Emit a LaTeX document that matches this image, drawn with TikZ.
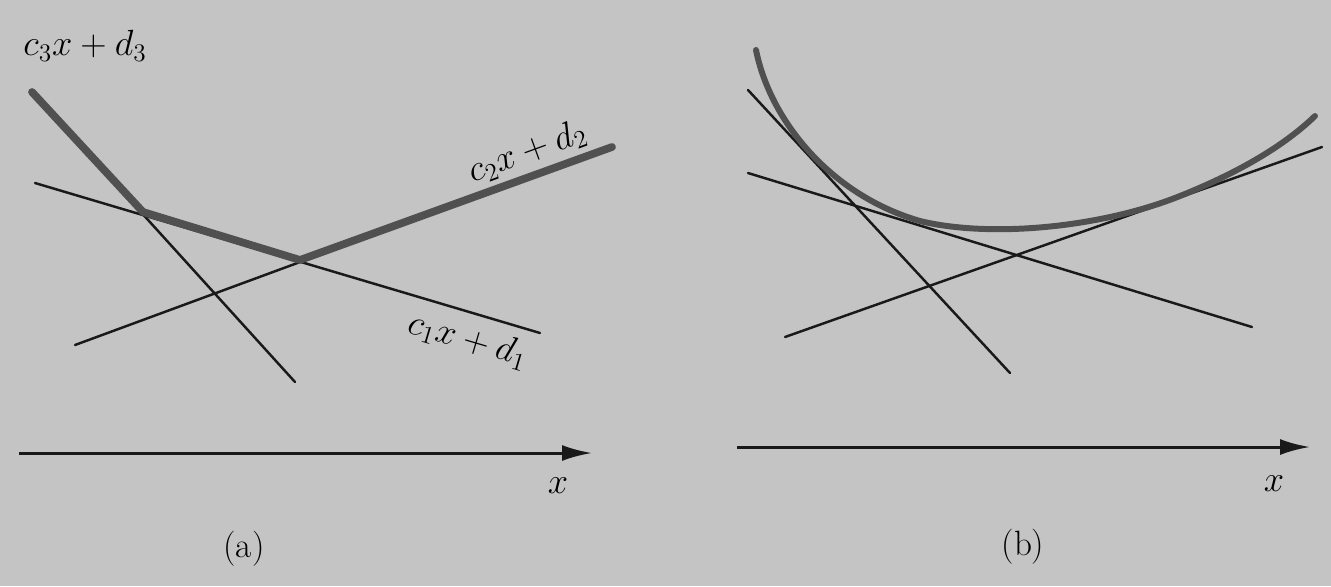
\documentclass[tikz,border=0pt]{standalone}
\usepackage{tikz}
\usetikzlibrary{arrows.meta}
\definecolor{paper}{HTML}{C4C4C4}
\definecolor{heavy}{HTML}{505050}
\tikzset{
  % The tangent lines
  thinline/.style={draw=black!90, line width=1.4pt, line cap=round},
  % The upper envelope in (a)
  thickline/.style={draw=heavy, line width=4.4pt, line cap=round, line join=round},
  % The smooth function in (b)
  curveline/.style={draw=heavy, line width=3.4pt, line cap=round},
  % The x axis
  axisline/.style={draw=black!90, line width=1.7pt, -{Latex[length=6mm,width=3.2mm]}},
  lbl/.style={font=\fontsize{20}{24}\selectfont, inner sep=1pt},
}

\begin{document}
\begin{tikzpicture}[x=0.02cm, y=-0.02cm]

  \fill[paper] (0,0) rectangle (1331,586);
  \useasboundingbox (0,0) rectangle (1331,586);

  % (a): three lines and their maximum
  \coordinate (a3s) at (32,92);    \coordinate (a3e) at (295,382);
  \coordinate (a1s) at (35,183);   \coordinate (a1e) at (540,333);
  \coordinate (a2s) at (75,345);   \coordinate (a2e) at (612,147);
  \coordinate (a13) at (143,212);  \coordinate (a12) at (300,260);

  \draw[thinline] (a3s) -- (a3e);
  \draw[thinline] (a1s) -- (a1e);
  \draw[thinline] (a2s) -- (a2e);
  \draw[thickline] (a3s) -- (a13) -- (a12) -- (a2e);

  \node[lbl] (l3) at (85,46) {$c_3x + d_3$};
  \node[lbl, rotate=20] (l2) at (527,152) {$c_2x + d_2$};
  \node[lbl, rotate=-16.5] (l1) at (468,340) {$c_1x + d_1$};

  \coordinate (xa0) at (19,453);   \coordinate (xa1) at (592,453);
  \draw[axisline] (xa0) -- (xa1);
  \node[lbl] (xa) at (558,486) {$x$};
  \node[lbl] (capa) at (244,549) {(a)};

  % (b): a smooth function and three tangents
  \coordinate (bAs) at (748,90);   \coordinate (bAe) at (1010,373);
  \coordinate (bBs) at (748,173);  \coordinate (bBe) at (1252,327);
  \coordinate (bCs) at (785,337);  \coordinate (bCe) at (1322,147);

  \draw[thinline] (bAs) -- (bAe);
  \draw[thinline] (bBs) -- (bBe);
  \draw[thinline] (bCs) -- (bCe);
  \draw[curveline] (756,50) .. controls (770,120) and (830,195) .. (920,221)
    .. controls (990,238) and (1100,228) .. (1180,196)
    .. controls (1240,172) and (1285,145) .. (1315,116);

  \coordinate (xb0) at (737,447);  \coordinate (xb1) at (1310,447);
  \draw[axisline] (xb0) -- (xb1);
  \node[lbl] (xb) at (1274,484) {$x$};
  \node[lbl] (capb) at (1023,547) {(b)};

\end{tikzpicture}
\end{document}
